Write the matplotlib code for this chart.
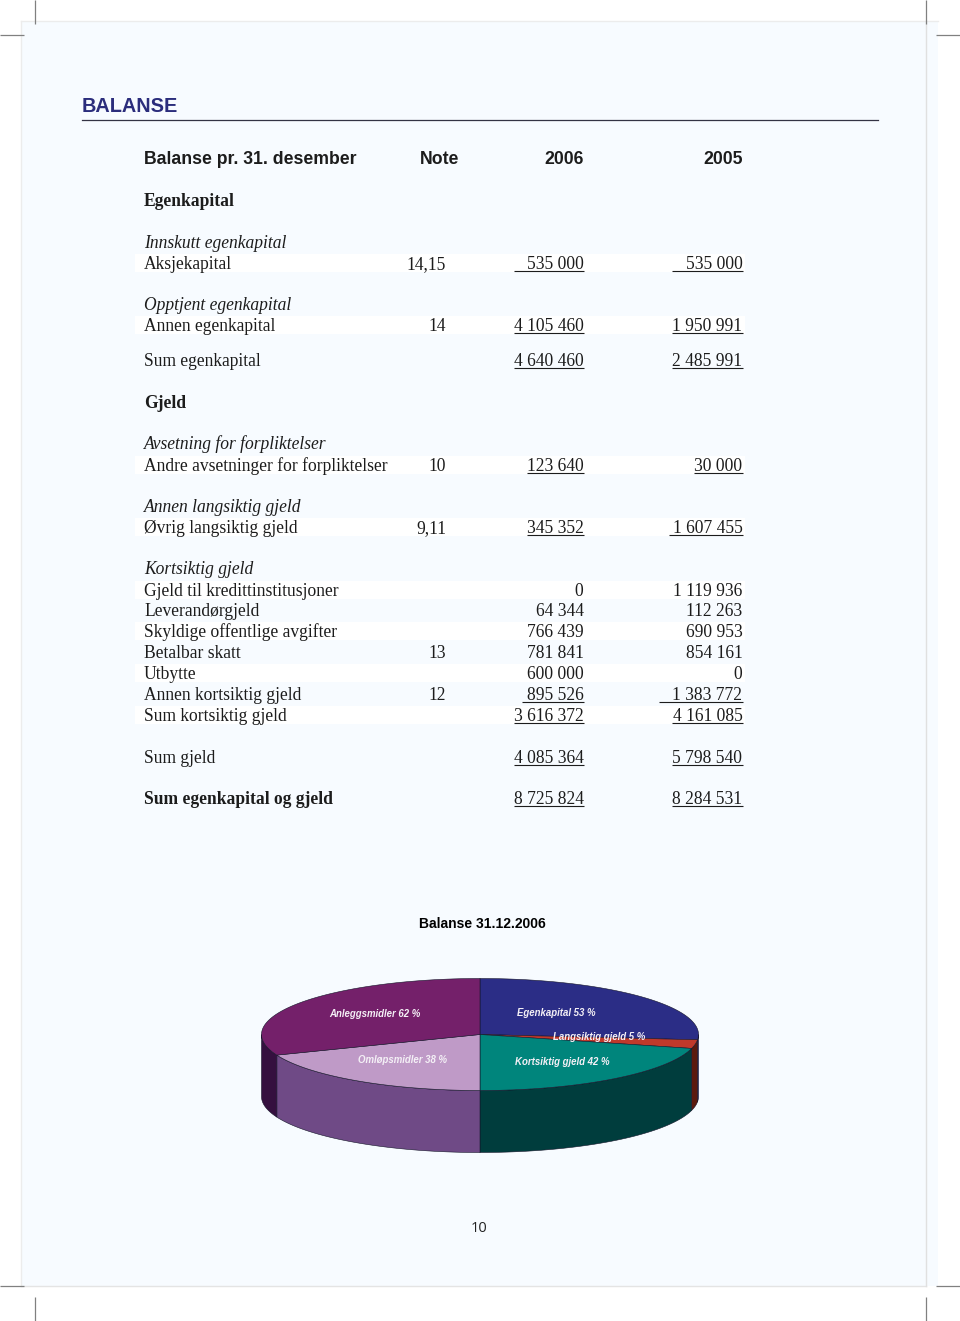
#!/usr/bin/env python3
"""Balanse-side: tabell + delt 3D-kake."""
import numpy as np
import matplotlib
matplotlib.use("Agg")
import matplotlib.pyplot as plt
from matplotlib.patches import Rectangle

W, H = 960, 1321

# tabell
row_labels = ["Aksjekapital", "Annen egenkapital", "Sum egenkapital",
              "Andre avsetninger for forpliktelser", "Øvrig langsiktig gjeld",
              "Gjeld til kredittinstitusjoner", "Leverandørgjeld",
              "Skyldige offentlige avgifter", "Betalbar skatt", "Utbytte",
              "Annen kortsiktig gjeld", "Sum kortsiktig gjeld", "Sum gjeld",
              "Sum egenkapital og gjeld"]
row_notes = ["14,15", "14", "", "10", "9,11", "", "", "", "13", "", "12", "", "", ""]
values_2006 = ["535 000", "4 105 460", "4 640 460", "123 640", "345 352", "0",
               "64 344", "766 439", "781 841", "600 000", "895 526",
               "3 616 372", "4 085 364", "8 725 824"]
values_2005 = ["535 000", "1 950 991", "2 485 991", "30 000", "1 607 455",
               "1 119 936", "112 263", "690 953", "854 161", "0", "1 383 772",
               "4 161 085", "5 798 540", "8 284 531"]
section_labels = ["Egenkapital", "Gjeld"]
group_labels = ["Innskutt egenkapital", "Opptjent egenkapital",
                "Avsetning for forpliktelser", "Annen langsiktig gjeld",
                "Kortsiktig gjeld"]

# kake: venstre halvdel = eiendeler, høyre halvdel = gjeld og egenkapital
pie_labels = ["Egenkapital 53 %", "Langsiktig gjeld 5 %", "Kortsiktig gjeld 42 %",
              "Omløpsmidler 38 %", "Anleggsmidler 62 %"]
pie_values = [53, 5, 42, 38, 62]

# layout (piksler)
row_y = [263, 325, 360, 465, 527, 590, 610, 631, 652, 673, 694, 715, 757, 798]
section_y = [200, 402]
group_y = [242, 304, 443, 506, 568]
stripe_rows = [0, 1, 3, 4, 5, 7, 9, 11]
line_start_2006 = {0: 514, 1: 514, 2: 514, 3: 527, 4: 527, 10: 522, 11: 514, 12: 514, 13: 514}
line_start_2005 = {0: 672, 1: 672, 2: 672, 3: 694, 4: 669, 10: 659, 11: 672, 12: 672, 13: 672}
note_right = 446
pie_colors = ["#2b2d86", "#c0392b", "#00857c", "#bf9ac7", "#74206a"]
wall_colors = ["#2b2d86", "#5c1a0e", "#003d3d", "#6f4a86", "#35103f"]
pie_label_xy = [(556, 1013), (599, 1037), (562, 1062), (402, 1060), (375, 1014)]

SERIF = "Liberation Serif"
SANS = "Liberation Sans"
INK = "#1c1c1c"
FS = 12.65
DY = 1.5  # va=center sitter litt hoyt

fig = plt.figure(figsize=(W / 100, H / 100), dpi=100, facecolor="white")
ax = fig.add_axes([0, 0, 1, 1])
ax.set_xlim(0, W)
ax.set_ylim(H, 0)
ax.axis("off")

# side + skjaeremerker
ax.add_patch(Rectangle((21, 21), 917, 1265, fc="#f7fbff", ec="none"))
ax.plot([21, 938], [21, 21], color="#ececec", lw=1)
ax.plot([21, 21], [21, 1286], color="#ececec", lw=1)
ax.plot([21, 926], [1286, 1286], color="#e4e4e4", lw=1)
ax.plot([925.5, 925.5], [21, 1286], color="#e0e0e0", lw=1)
for xs, ys in [([35, 35], [0, 24]), ([0, 24], [35, 35]),
               ([925.5, 925.5], [0, 24]), ([936, 960], [35, 35]),
               ([35, 35], [1297, 1321]), ([0, 24], [1286, 1286]),
               ([925.5, 925.5], [1297, 1321]), ([936, 960], [1286, 1286])]:
    ax.plot(xs, ys, color="#808080", lw=0.9, solid_capstyle="butt")

# overskrift
ax.text(82, 107, "BALANSE", family=SANS, weight="bold", fontsize=14.3, color="#2b2d7c", va="center")
ax.plot([82, 878], [120, 120], color="#333344", lw=0.9)

ax.text(144, 160, "Balanse pr. 31. desember", family=SANS, weight="bold", fontsize=12.7, color=INK, va="center")
ax.text(440, 160, "Note", family=SANS, weight="bold", fontsize=12.7, color=INK, va="center", ha="center")
ax.text(583.5, 160, "2006", family=SANS, weight="bold", fontsize=12.7, color=INK, va="center", ha="right")
ax.text(742.5, 160, "2005", family=SANS, weight="bold", fontsize=12.7, color=INK, va="center", ha="right")

for i in stripe_rows:
    ax.add_patch(Rectangle((135, row_y[i] - 9), 610, 18, fc="white", ec="none"))

for label, y in zip(section_labels, section_y):
    ax.text(144, y + DY, label, family=SERIF, weight="bold", fontsize=FS, color=INK, va="center")
for label, y in zip(group_labels, group_y):
    ax.text(144, y + DY, label, family=SERIF, style="italic", fontsize=FS, color=INK, va="center")

for i, y in enumerate(row_y):
    bold = i == len(row_y) - 1
    ax.text(144, y + DY, row_labels[i], family=SERIF, fontsize=FS, color=INK, va="center",
            weight="bold" if bold else "normal")
    ax.text(note_right, y + DY, row_notes[i], family=SERIF, fontsize=FS, color=INK, va="center", ha="right")
    ax.text(583.5, y + DY, values_2006[i], family=SERIF, fontsize=FS, color=INK, va="center", ha="right")
    ax.text(742.5, y + DY, values_2005[i], family=SERIF, fontsize=FS, color=INK, va="center", ha="right")
    if i in line_start_2006:
        ax.plot([line_start_2006[i], 583.5], [y + 8, y + 8], color=INK, lw=0.8, solid_capstyle="butt")
    if i in line_start_2005:
        ax.plot([line_start_2005[i], 742.5], [y + 8, y + 8], color=INK, lw=0.8, solid_capstyle="butt")

# kake
ax.text(482, 924.5, "Balanse 31.12.2006", family=SANS, weight="bold", fontsize=10, color="black", va="center", ha="center")

cx, cy, rx, ry, depth = 480, 1034.5, 218.5, 56, 62
total = float(sum(pie_values))
angles = 90 - np.cumsum([0] + pie_values) / total * 360  # med klokka fra toppen


def rim(a1, a2):
    t = np.radians(np.linspace(a1, a2, 80))
    return cx + rx * np.cos(t), cy - ry * np.sin(t)


for i in range(len(pie_values)):
    a1, a2 = angles[i], angles[i + 1]
    x, y = rim(a1, a2)
    ax.fill(np.r_[cx, x], np.r_[cy, y], fc=pie_colors[i], ec="#15152a", lw=0.4, zorder=3)
    # sidevegg: bare nedre halvdel av ellipsen synes
    hi, lo = min(a1, 0), max(a2, -180)
    if hi > lo:
        x, y = rim(hi, lo)
        ax.fill(np.r_[x, x[::-1]], np.r_[y, y[::-1] + depth], fc=wall_colors[i],
                ec="#15152a", lw=0.4, zorder=2)

for label, (x, y) in zip(pie_labels, pie_label_xy):
    ax.text(x, y, label, family=SANS, weight="bold", style="italic", fontsize=6.9,
            color="#f4f0f6", va="center", ha="center", zorder=5)

ax.text(479, 1229, "10", family="Open Sans", fontsize=10.5, color="#222222", va="center", ha="center")

fig.savefig("out.png", dpi=100)
